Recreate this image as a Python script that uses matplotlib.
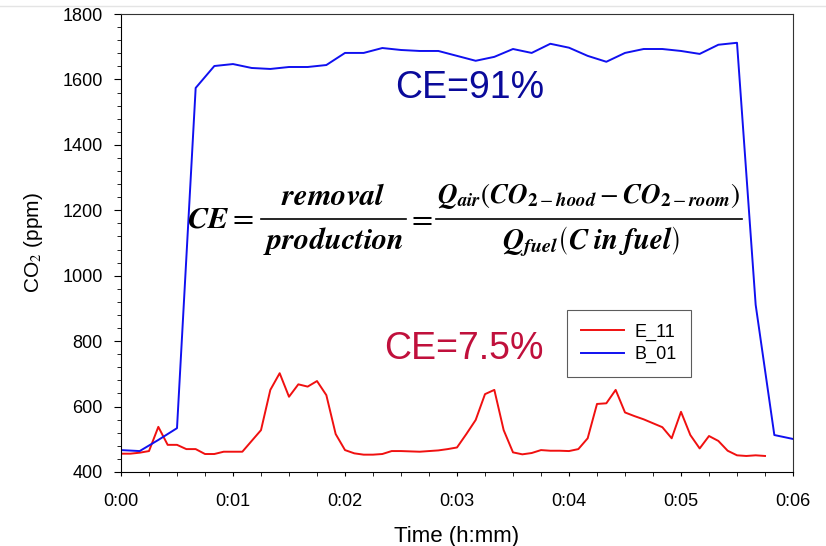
import numpy as np
import matplotlib.pyplot as plt
from matplotlib.lines import Line2D
from matplotlib.ticker import MultipleLocator, FuncFormatter

plt.rcParams['font.family'] = ['Liberation Sans', 'DejaVu Sans']
plt.rcParams['mathtext.fontset'] = 'stix'

# B_01 logged every 10 s, E_11 every 5 s (time in minutes)
b01_ppm = [467, 464, 498, 534, 1574, 1641, 1647, 1635, 1632, 1638, 1638, 1644,
           1681, 1681, 1696, 1690, 1687, 1687, 1672, 1657, 1669, 1693, 1681,
           1709, 1697, 1672, 1654, 1681, 1693, 1693, 1687, 1678, 1706, 1712,
           911, 513, 501]
e11_ppm = [456, 456, 459, 464, 538, 483, 483, 470, 470, 455, 455, 462, 462,
           462, 495, 528, 651, 702, 630, 668, 661, 678, 635, 516, 467, 457,
           453, 453, 455, 464, 464, 463, 462, 464, 466, 470, 475, 516, 559,
           638, 651, 528, 460, 454, 458, 467, 465, 465, 464, 470, 503, 608,
           610, 651, 582, 571, 561, 549, 537, 503, 584, 513, 472, 510, 495,
           465, 451, 449, 451, 449]
b01_t = np.arange(len(b01_ppm)) / 6.0
e11_t = np.arange(len(e11_ppm)) / 12.0

W, H = 826, 546
fig = plt.figure(figsize=(W / 100, H / 100), dpi=100)
ax = fig.add_axes([121 / W, 1 - 472 / H, 672 / W, 458 / H])


def fx(px):
    return px / W


def fy(py):
    return 1 - py / H


# faint slide border line at the top
fig.add_artist(Line2D([0, 1], [fy(6)] * 2, color='#e4e4e4', lw=1))

ax.plot(e11_t, e11_ppm, color='#f01010', lw=1.4, label='E_11')
ax.plot(b01_t, b01_ppm, color='#1010f0', lw=1.4, label='B_01')

ax.set_xlim(0, 6)
ax.set_ylim(400, 1800)
ax.xaxis.set_major_locator(MultipleLocator(1))
ax.xaxis.set_minor_locator(MultipleLocator(0.25))
ax.yaxis.set_major_locator(MultipleLocator(200))
ax.yaxis.set_minor_locator(MultipleLocator(40))
ax.xaxis.set_major_formatter(FuncFormatter(lambda v, p: '0:%02d' % int(round(v))))
ax.tick_params(which='both', direction='out', top=False, right=False, labelsize=13)
ax.tick_params(axis='y', which='major', length=5, pad=8)
ax.tick_params(axis='x', which='major', length=3, pad=12)
ax.tick_params(which='minor', length=3)
for s in ['top', 'right']:
    ax.spines[s].set_color('#333333')

ax.set_xlabel('Time (h:mm)', fontsize=16)
ax.set_ylabel('CO$_2$ (ppm)', fontsize=15)
ax.xaxis.set_label_coords(0.5, -0.118)
ax.yaxis.set_label_coords(-0.113, 0.5)

ax.text(3.11, 1575, 'CE=91%', color='#0a0a9a', fontsize=27, ha='center', va='center')
ax.text(3.06, 775, 'CE=7.5%', color='#c0103c', fontsize=27, ha='center', va='center')

# capture efficiency formula, built piece by piece
fig.text(fx(187), fy(219), r'$\mathbfit{CE}=$', fontsize=22, ha='left', va='center')
fig.add_artist(Line2D([fx(261), fx(406)], [fy(219)] * 2, color='k', lw=1.2))
fig.text(fx(333), fy(197), r'$\mathbfit{removal}$', fontsize=22, ha='center', va='center')
fig.text(fx(334), fy(241), r'$\mathbfit{production}$', fontsize=22, ha='center', va='center')
fig.text(fx(420), fy(219), r'$=$', fontsize=22, ha='center', va='center')
fig.add_artist(Line2D([fx(436), fx(742)], [fy(219)] * 2, color='k', lw=1.2))
fig.text(fx(589), fy(196),
         r'$\mathbfit{Q}_{\mathbfit{air}}\left(\mathbfit{CO}_{\mathbf{2}-\mathbfit{hood}}'
         r'-\mathbfit{CO}_{\mathbf{2}-\mathbfit{room}}\right)$',
         fontsize=19.5, ha='center', va='center')
fig.text(fx(591), fy(242), r'$\mathbfit{Q}_{\mathbfit{fuel}}\left(\mathbfit{C\;in\;fuel}\right)$',
         fontsize=21, ha='center', va='center')

leg = ax.legend(loc='upper left', bbox_to_anchor=(0.6637, 0.3537), fontsize=13,
                frameon=True, fancybox=False, handlelength=2.4, handletextpad=0.6,
                borderpad=0.75, labelspacing=0.3, borderaxespad=0)
leg.get_frame().set_edgecolor('#333333')
leg.get_frame().set_linewidth(0.8)

fig.savefig('out.png', dpi=100)
